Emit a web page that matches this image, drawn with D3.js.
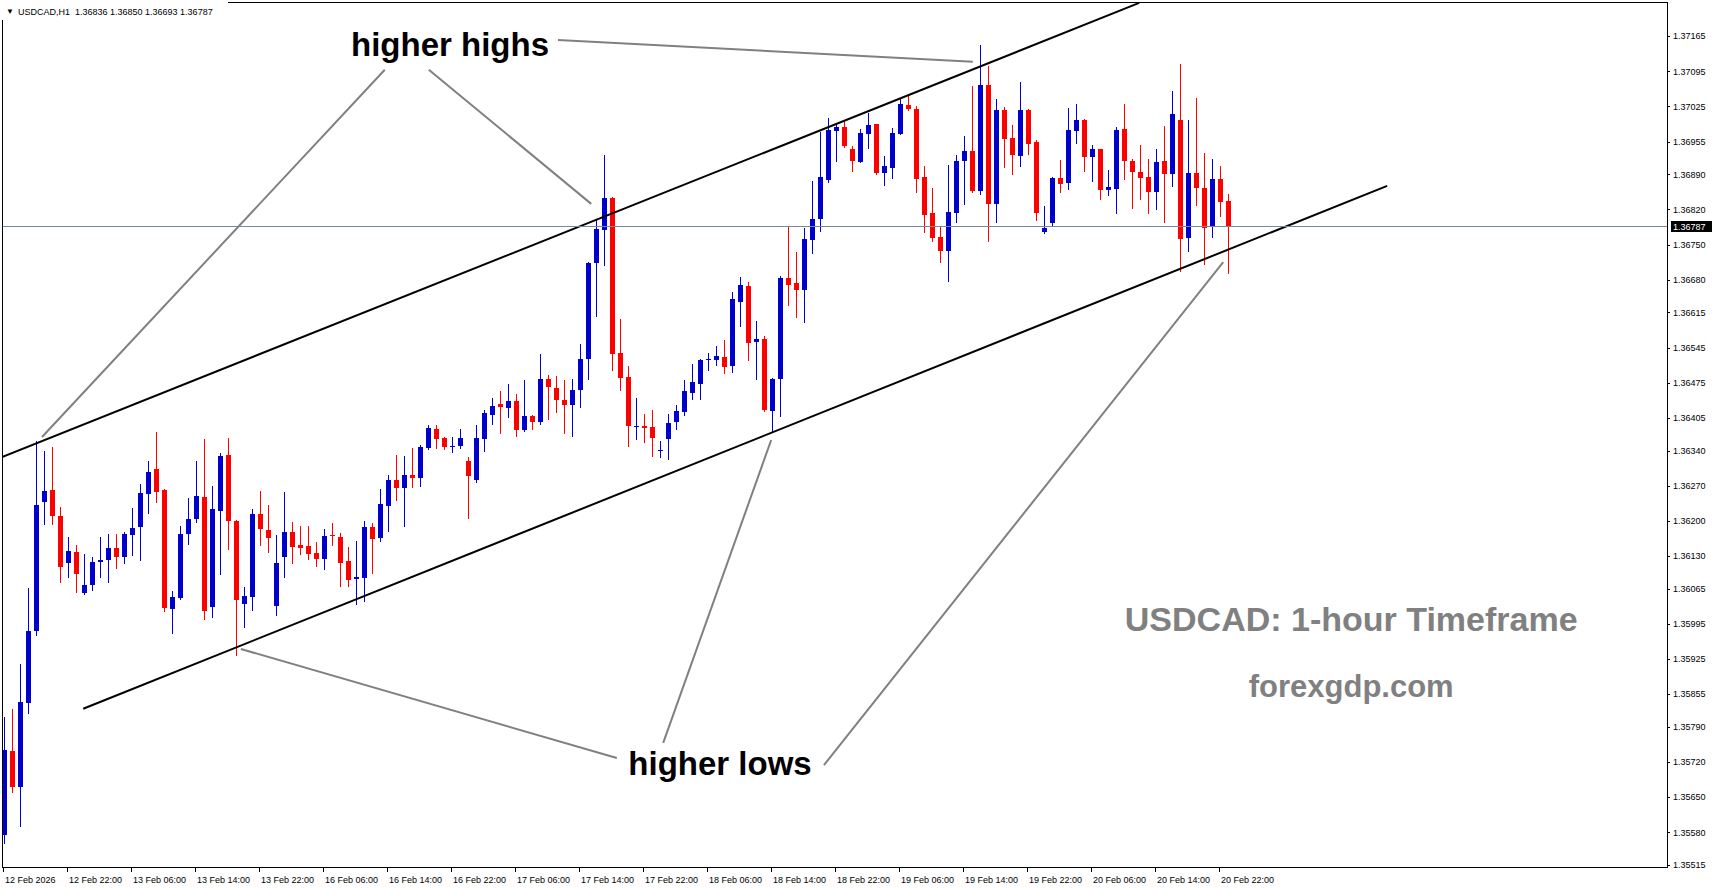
<!DOCTYPE html>
<meta charset="utf-8">
<style>

body {
  margin: 0;
  background: #fff;
}

text {
  font-family: "Liberation Sans", Arial, sans-serif;
}

.axis text {
  font-size: 9px;
  fill: #000;
}

.note {
  font-size: 33px;
  font-weight: bold;
  fill: #000;
}

.brand {
  font-weight: bold;
  fill: #808080;
}

</style>
<svg width="1713" height="888"></svg>
<script src="https://d3js.org/d3.v7.min.js"></script>
<script>

// USDCAD H1 candles
var opens = [1.35575,1.35742,1.35671,1.35838,1.35980,1.36238,1.36262,1.36210,1.36117,1.36138,
  1.36057,1.36073,1.36119,1.36123,1.36146,1.36129,1.36172,1.36187,1.36254,1.36303,
  1.36262,1.36025,1.36047,1.36173,1.36203,1.36248,1.36029,1.36220,1.36331,1.36200,
  1.36035,1.36049,1.36214,1.36182,1.36031,1.36129,1.36178,1.36152,1.36150,1.36136,
  1.36125,1.36172,1.36168,1.36120,1.36085,1.36087,1.36188,1.36165,1.36230,1.36282,
  1.36266,1.36291,1.36286,1.36346,1.36383,1.36365,1.36347,1.36350,1.36319,1.36282,
  1.36362,1.36411,1.36433,1.36425,1.36439,1.36381,1.36409,1.36396,1.36483,1.36465,
  1.36440,1.36431,1.36461,1.36522,1.36713,1.36780,1.36843,1.36534,1.36486,1.36386,
  1.36388,1.36386,1.36340,1.36362,1.36396,1.36416,1.36455,1.36473,1.36520,1.36521,
  1.36527,1.36509,1.36636,1.36668,1.36557,1.36563,1.36419,1.36483,1.36684,1.36674,
  1.36660,1.36760,1.36800,1.36879,1.36977,1.36984,1.36940,1.36915,1.36971,1.36990,
  1.36893,1.36903,1.36971,1.37028,1.37020,1.36885,1.36813,1.36766,1.36738,1.36813,
  1.36917,1.36936,1.36857,1.37068,1.36831,1.37018,1.36962,1.36927,1.37018,1.36954,
  1.36776,1.36792,1.36883,1.36873,1.36977,1.36998,1.36925,1.36940,1.36859,1.36861,
  1.36980,1.36916,1.36894,1.36885,1.36855,1.36916,1.36891,1.36998,1.36764,1.36892,
  1.36863,1.36786,1.36881,1.36836];

var highs = [1.35810,1.35825,1.35915,1.36067,1.36359,1.36339,1.36347,1.36227,1.36168,1.36152,
  1.36134,1.36129,1.36167,1.36174,1.36174,1.36178,1.36226,1.36274,1.36319,1.36377,
  1.36264,1.36061,1.36190,1.36246,1.36319,1.36363,1.36270,1.36335,1.36365,1.36202,
  1.36069,1.36224,1.36260,1.36232,1.36172,1.36258,1.36198,1.36190,1.36189,1.36158,
  1.36184,1.36196,1.36176,1.36149,1.36160,1.36200,1.36196,1.36264,1.36291,1.36331,
  1.36329,1.36345,1.36351,1.36390,1.36390,1.36366,1.36367,1.36383,1.36327,1.36391,
  1.36421,1.36445,1.36459,1.36473,1.36453,1.36481,1.36411,1.36532,1.36491,1.36489,
  1.36481,1.36483,1.36552,1.36715,1.36799,1.36928,1.36845,1.36602,1.36508,1.36445,
  1.36412,1.36421,1.36360,1.36412,1.36431,1.36481,1.36513,1.36523,1.36535,1.36549,
  1.36561,1.36656,1.36686,1.36676,1.36597,1.36569,1.36485,1.36688,1.36787,1.36735,
  1.36783,1.36877,1.36974,1.37002,1.36990,1.36996,1.36946,1.36980,1.37012,1.36991,
  1.36926,1.36982,1.37042,1.37048,1.37026,1.36907,1.36863,1.36786,1.36909,1.36928,
  1.36966,1.37066,1.37147,1.37105,1.37040,1.37024,1.36988,1.37074,1.37020,1.36958,
  1.36827,1.36885,1.36918,1.37022,1.37030,1.36999,1.36948,1.36941,1.36898,1.36984,
  1.37030,1.36920,1.36948,1.36920,1.36940,1.36986,1.37056,1.37109,1.36998,1.37042,
  1.36932,1.36920,1.36906,1.36850];

var lows = [1.35559,1.35661,1.35593,1.35817,1.35972,1.36193,1.36193,1.36079,1.36089,1.36059,
  1.36055,1.36063,1.36089,1.36079,1.36107,1.36117,1.36133,1.36123,1.36216,1.36238,
  1.36021,1.35976,1.36045,1.36153,1.36197,1.36004,1.36008,1.36095,1.36145,1.35934,
  1.35988,1.36023,1.36151,1.36139,1.36012,1.36089,1.36117,1.36134,1.36125,1.36111,
  1.36105,1.36151,1.36071,1.36071,1.36035,1.36041,1.36097,1.36159,1.36179,1.36242,
  1.36189,1.36268,1.36270,1.36344,1.36345,1.36344,1.36338,1.36346,1.36206,1.36278,
  1.36340,1.36393,1.36374,1.36407,1.36368,1.36378,1.36382,1.36393,1.36402,1.36416,
  1.36374,1.36368,1.36427,1.36483,1.36608,1.36710,1.36501,1.36461,1.36350,1.36362,
  1.36358,1.36330,1.36328,1.36324,1.36382,1.36410,1.36443,1.36443,1.36501,1.36511,
  1.36495,1.36497,1.36587,1.36521,1.36483,1.36418,1.36378,1.36408,1.36630,1.36605,
  1.36595,1.36734,1.36778,1.36875,1.36917,1.36945,1.36897,1.36914,1.36943,1.36891,
  1.36869,1.36883,1.36970,1.37018,1.36855,1.36776,1.36758,1.36716,1.36678,1.36794,
  1.36831,1.36855,1.36851,1.36758,1.36794,1.36905,1.36891,1.36907,1.36931,1.36798,
  1.36774,1.36788,1.36855,1.36861,1.36953,1.36897,1.36877,1.36841,1.36849,1.36812,
  1.36881,1.36823,1.36841,1.36813,1.36821,1.36794,1.36867,1.36698,1.36738,1.36829,
  1.36712,1.36766,1.36806,1.36693];

var closes = [1.35744,1.35671,1.35840,1.35981,1.36232,1.36260,1.36210,1.36109,1.36140,1.36095,
  1.36073,1.36118,1.36122,1.36146,1.36129,1.36174,1.36186,1.36256,1.36297,1.36258,
  1.36027,1.36049,1.36174,1.36204,1.36250,1.36021,1.36224,1.36329,1.36199,1.36043,
  1.36051,1.36214,1.36183,1.36165,1.36116,1.36178,1.36149,1.36147,1.36135,1.36125,
  1.36170,1.36169,1.36117,1.36083,1.36088,1.36188,1.36163,1.36234,1.36282,1.36266,
  1.36291,1.36286,1.36347,1.36385,1.36362,1.36348,1.36350,1.36365,1.36290,1.36365,
  1.36415,1.36429,1.36427,1.36439,1.36381,1.36409,1.36396,1.36483,1.36467,1.36441,
  1.36431,1.36461,1.36522,1.36713,1.36781,1.36843,1.36533,1.36485,1.36388,1.36389,
  1.36384,1.36364,1.36342,1.36395,1.36418,1.36459,1.36477,1.36521,1.36522,1.36529,
  1.36507,1.36642,1.36670,1.36555,1.36563,1.36421,1.36483,1.36684,1.36670,1.36660,
  1.36761,1.36801,1.36885,1.36978,1.36984,1.36947,1.36917,1.36972,1.36988,1.36893,
  1.36906,1.36972,1.37030,1.37019,1.36881,1.36809,1.36764,1.36738,1.36815,1.36916,
  1.36936,1.36857,1.37068,1.36831,1.37018,1.36961,1.36929,1.37018,1.36951,1.36812,
  1.36783,1.36883,1.36871,1.36978,1.36998,1.36925,1.36940,1.36859,1.36865,1.36978,
  1.36917,1.36895,1.36883,1.36855,1.36914,1.36891,1.37010,1.36762,1.36892,1.36863,
  1.36784,1.36881,1.36835,1.36787];

// time labels sit on every 8th bar
var xLabels = ["12 Feb 2026","12 Feb 22:00","13 Feb 06:00","13 Feb 14:00","13 Feb 22:00",
  "16 Feb 06:00","16 Feb 14:00","16 Feb 22:00","17 Feb 06:00","17 Feb 14:00",
  "17 Feb 22:00","18 Feb 06:00","18 Feb 14:00","18 Feb 22:00","19 Feb 06:00",
  "19 Feb 14:00","19 Feb 22:00","20 Feb 06:00","20 Feb 14:00","20 Feb 22:00"];

var yTicks = [1.37165,1.37095,1.37025,1.36955,1.36890,1.36820,1.36750,1.36680,1.36615,
  1.36545,1.36475,1.36405,1.36340,1.36270,1.36200,1.36130,1.36065,1.35995,1.35925,
  1.35855,1.35790,1.35720,1.35650,1.35580,1.35515];

var lastPrice = 1.36787;
var header = "USDCAD,H1  1.36836 1.36850 1.36693 1.36787";

// channel lines as [bar, price] pairs
var upperChannel = [[-0.25, 1.36327], [141.9, 1.37231]];
var lowerChannel = [[9.9, 1.35826], [172.9, 1.36867]];

// grey pointers from the labels
var pointers = [
  [[69.25, 1.37157], [121.1, 1.37114]],
  [[47.6, 1.37098], [4.75, 1.36367]],
  [[53.1, 1.37098], [73.4, 1.36831]],
  [[76.6, 1.35728], [29.6, 1.35945]],
  [[82.4, 1.35758], [95.9, 1.36361]],
  [[102.5, 1.35714], [152.4, 1.36715]]
];

var notes = [
  {text: "higher highs", bar: 55.75, price: 1.37125},
  {text: "higher lows", bar: 89.5, price: 1.35694}
];

var brand = [
  {text: "USDCAD: 1-hour Timeframe", bar: 168.4, price: 1.35981, size: 34},
  {text: "forexgdp.com", bar: 168.4, price: 1.35850, size: 31}
];

var svg = d3.select("svg"),
    width = +svg.attr("width"),
    height = +svg.attr("height");

// plot box (window.top is read-only, so no plain "top" here)
var pl = 2, pr = 1667, pt = 2, pb = 867;

var x = d3.scaleLinear()
    .domain([0, opens.length - 1])
    .range([4, 4 + 8 * (opens.length - 1)]);

var y = d3.scaleLinear()
    .domain([1.35515, 1.37165])
    .range([865, 36.1]);

var bars = d3.range(opens.length);

svg.append("clipPath").attr("id", "plot")
  .append("rect")
    .attr("x", pl).attr("y", pt)
    .attr("width", pr - pl).attr("height", pb - pt);

var plot = svg.append("g").attr("clip-path", "url(#plot)");

// candles
var candle = plot.selectAll("g.candle")
  .data(bars)
  .enter().append("g")
    .attr("class", "candle")
    .attr("fill", function(i) { return closes[i] > opens[i] ? "#0000cd" : "#ff0000"; });

candle.append("rect")
    .attr("x", function(i) { return Math.round(x(i)); })
    .attr("width", 1)
    .attr("y", function(i) { return Math.round(y(highs[i])); })
    .attr("height", function(i) { return Math.round(y(lows[i])) - Math.round(y(highs[i])) + 1; });

candle.append("rect")
    .attr("x", function(i) { return Math.round(x(i)) - 2; })
    .attr("width", 5)
    .attr("y", function(i) { return Math.round(y(Math.max(opens[i], closes[i]))); })
    .attr("height", function(i) {
      return Math.max(1, Math.round(y(Math.min(opens[i], closes[i]))) - Math.round(y(Math.max(opens[i], closes[i]))));
    });

// current price line
var ly = Math.round(y(lastPrice)) + 0.5;
svg.append("line")
    .attr("x1", pl).attr("x2", pr)
    .attr("y1", ly).attr("y2", ly)
    .attr("stroke", "#778899");

var line = d3.line()
    .x(function(d) { return x(d[0]); })
    .y(function(d) { return y(d[1]); });

plot.selectAll("path.channel")
  .data([upperChannel, lowerChannel])
  .enter().append("path")
    .attr("class", "channel")
    .attr("d", line)
    .attr("fill", "none")
    .attr("stroke", "#000")
    .attr("stroke-width", 2);

plot.selectAll("path.pointer")
  .data(pointers)
  .enter().append("path")
    .attr("class", "pointer")
    .attr("d", line)
    .attr("fill", "none")
    .attr("stroke", "#808080")
    .attr("stroke-width", 2);

plot.selectAll("text.note")
  .data(notes)
  .enter().append("text")
    .attr("class", "note")
    .attr("x", function(d) { return x(d.bar); })
    .attr("y", function(d) { return y(d.price); })
    .attr("text-anchor", "middle")
    .text(function(d) { return d.text; });

plot.selectAll("text.brand")
  .data(brand)
  .enter().append("text")
    .attr("class", "brand")
    .attr("x", function(d) { return x(d.bar); })
    .attr("y", function(d) { return y(d.price); })
    .attr("text-anchor", "middle")
    .style("font-size", function(d) { return d.size + "px"; })
    .text(function(d) { return d.text; });

// frame
svg.append("rect")
    .attr("x", pl + 0.5).attr("y", pt + 0.5)
    .attr("width", pr - pl).attr("height", pb - pt)
    .attr("fill", "none")
    .attr("stroke", "#000");

// price scale
var yAxis = svg.append("g").attr("class", "axis");

yAxis.selectAll("line")
  .data(yTicks)
  .enter().append("line")
    .attr("x1", pr).attr("x2", pr + 3)
    .attr("y1", function(d) { return Math.round(y(d)) + 0.5; })
    .attr("y2", function(d) { return Math.round(y(d)) + 0.5; })
    .attr("stroke", "#000");

yAxis.selectAll("text")
  .data(yTicks)
  .enter().append("text")
    .attr("x", pr + 6)
    .attr("y", function(d) { return y(d) + 3.3; })
    .text(function(d) { return d.toFixed(5); });

var tag = svg.append("g").attr("class", "axis");
tag.append("rect")
    .attr("x", pr + 4).attr("y", Math.round(y(lastPrice)) - 5)
    .attr("width", 41).attr("height", 11)
    .attr("fill", "#000");
tag.append("text")
    .attr("x", pr + 6)
    .attr("y", y(lastPrice) + 3.6)
    .style("fill", "#fff")
    .text(lastPrice.toFixed(5));

// time scale
var xAxis = svg.append("g").attr("class", "axis");
var tickBars = xLabels.map(function(d, k) { return k * 8; });

xAxis.selectAll("line")
  .data(tickBars)
  .enter().append("line")
    .attr("x1", function(i) { return Math.round(x(i)) - 0.5; })
    .attr("x2", function(i) { return Math.round(x(i)) - 0.5; })
    .attr("y1", pb).attr("y2", pb + 5)
    .attr("stroke", "#000");

xAxis.selectAll("text")
  .data(tickBars)
  .enter().append("text")
    .attr("x", function(i) { return Math.round(x(i)) + 1; })
    .attr("y", pb + 16)
    .text(function(i, k) { return xLabels[k]; });

// header
svg.append("rect")
    .attr("x", 0).attr("y", 0)
    .attr("width", 228).attr("height", 20)
    .attr("fill", "#fff");

svg.append("text")
    .attr("class", "axis")
    .attr("x", 6).attr("y", 14)
    .style("font-size", "8px")
    .text("\u25BC");

svg.append("text")
    .attr("x", 18).attr("y", 14.5)
    .style("font-size", "9px")
    .style("white-space", "pre")
    .text(header);

</script>
